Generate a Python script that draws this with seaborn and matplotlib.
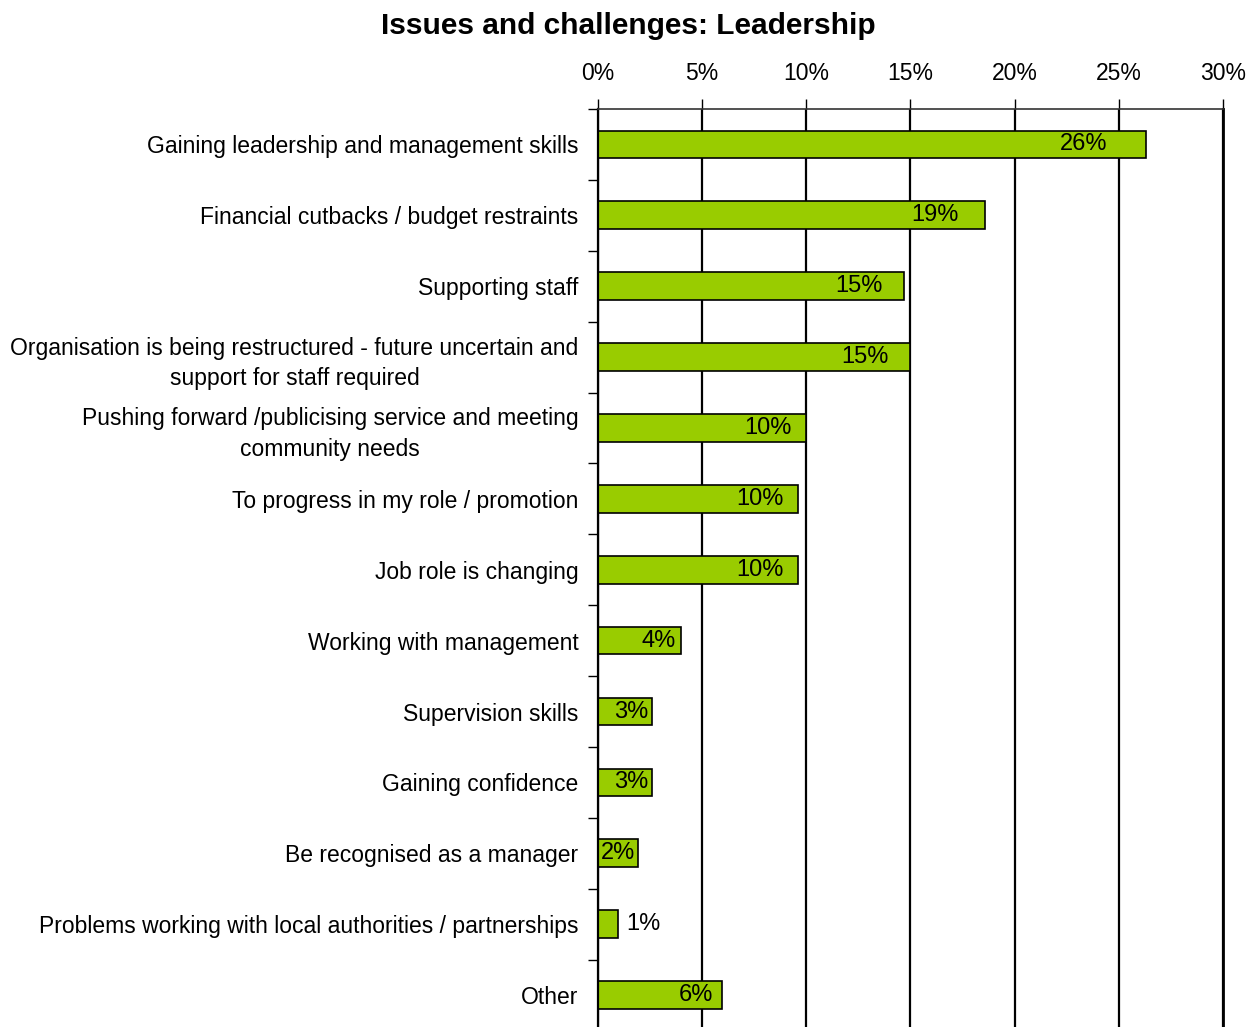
import matplotlib
matplotlib.use("Agg")
import matplotlib.pyplot as plt
import seaborn as sns
import pandas as pd
import numpy as np

categories = [
    "Gaining leadership and management skills",
    "Financial cutbacks / budget restraints",
    "Supporting staff",
    "Organisation is being restructured - future uncertain and\nsupport for staff required",
    "Pushing forward /publicising service and meeting\ncommunity needs",
    "To progress in my role / promotion",
    "Job role is changing",
    "Working with management",
    "Supervision skills",
    "Gaining confidence",
    "Be recognised as a manager",
    "Problems working with local authorities / partnerships",
    "Other",
]
values = [26.3, 18.6, 14.7, 15.0, 10.0, 9.6, 9.6, 4.0, 2.6, 2.6, 1.9, 0.96, 5.95]
x_ticks = [0, 5, 10, 15, 20, 25, 30]
x_tick_labels = ["0%", "5%", "10%", "15%", "20%", "25%", "30%"]
title = "Issues and challenges: Leadership"

sns.set_style("white")
plt.rcParams["font.family"] = ["Liberation Sans", "DejaVu Sans"]
plt.rcParams["text.color"] = "black"
plt.rcParams["xtick.color"] = "black"
plt.rcParams["ytick.color"] = "black"

df = pd.DataFrame({"category": categories, "value": values})

fig = plt.figure(figsize=(12.57, 10.27), dpi=100)
ax = fig.add_axes([0.4757, -0.0034, 0.4972, 0.8973])

sns.barplot(data=df, x="value", y="category", orient="h", color="#99CC00",
            edgecolor="black", linewidth=1.2, width=0.39, saturation=1, ax=ax)

ax.set_xlim(0, 30)
ax.set_ylim(len(categories) - 0.5, -0.5)
ax.set_xticks(x_ticks)
ax.set_xticklabels(x_tick_labels, fontsize=16.5, color="black")
ax.xaxis.tick_top()
ax.tick_params(axis="x", which="major", length=7, width=1, color="black",
               pad=10, top=True, bottom=False, labeltop=True, labelbottom=False)
ax.xaxis.grid(True, color="black", linewidth=1.6)
ax.yaxis.grid(False)
ax.set_axisbelow(True)

# category labels on major ticks (hidden), boundary marks on minor ticks
ax.set_yticks(np.arange(len(categories)))
ax.set_yticklabels(categories, fontsize=16.5, color="black",
                   multialignment="center", linespacing=1.42)
ax.set_yticks(np.arange(len(categories) + 1) - 0.5, minor=True)
ax.tick_params(axis="y", which="major", length=0, pad=14, left=True)
ax.tick_params(axis="y", which="minor", length=7, width=1, color="black", left=True)
ax.set_xlabel("")
ax.set_ylabel("")

for side in ["top", "left", "right", "bottom"]:
    ax.spines[side].set_visible(True)
ax.spines["top"].set_color("#333333")
ax.spines["top"].set_linewidth(1.2)
ax.spines["left"].set_color("black")
ax.spines["left"].set_linewidth(1.6)
ax.spines["right"].set_color("black")
ax.spines["right"].set_linewidth(2.0)
ax.spines["bottom"].set_visible(False)

for i, v in enumerate(values):
    label = f"{v:.0f}%"
    if v < 1.5:
        ax.annotate(label, xy=(v, i), xytext=(6, 0), textcoords="offset points",
                    ha="left", va="center", fontsize=17, color="black")
    else:
        ax.annotate(label, xy=(v * 0.93, i), xytext=(0, 0), textcoords="offset points",
                    ha="right", va="center", fontsize=17, color="black")

fig.text(0.5, 0.975, title, ha="center", va="center", fontsize=21.5,
         fontweight="bold", color="black")

fig.savefig("out.png", dpi=100)
